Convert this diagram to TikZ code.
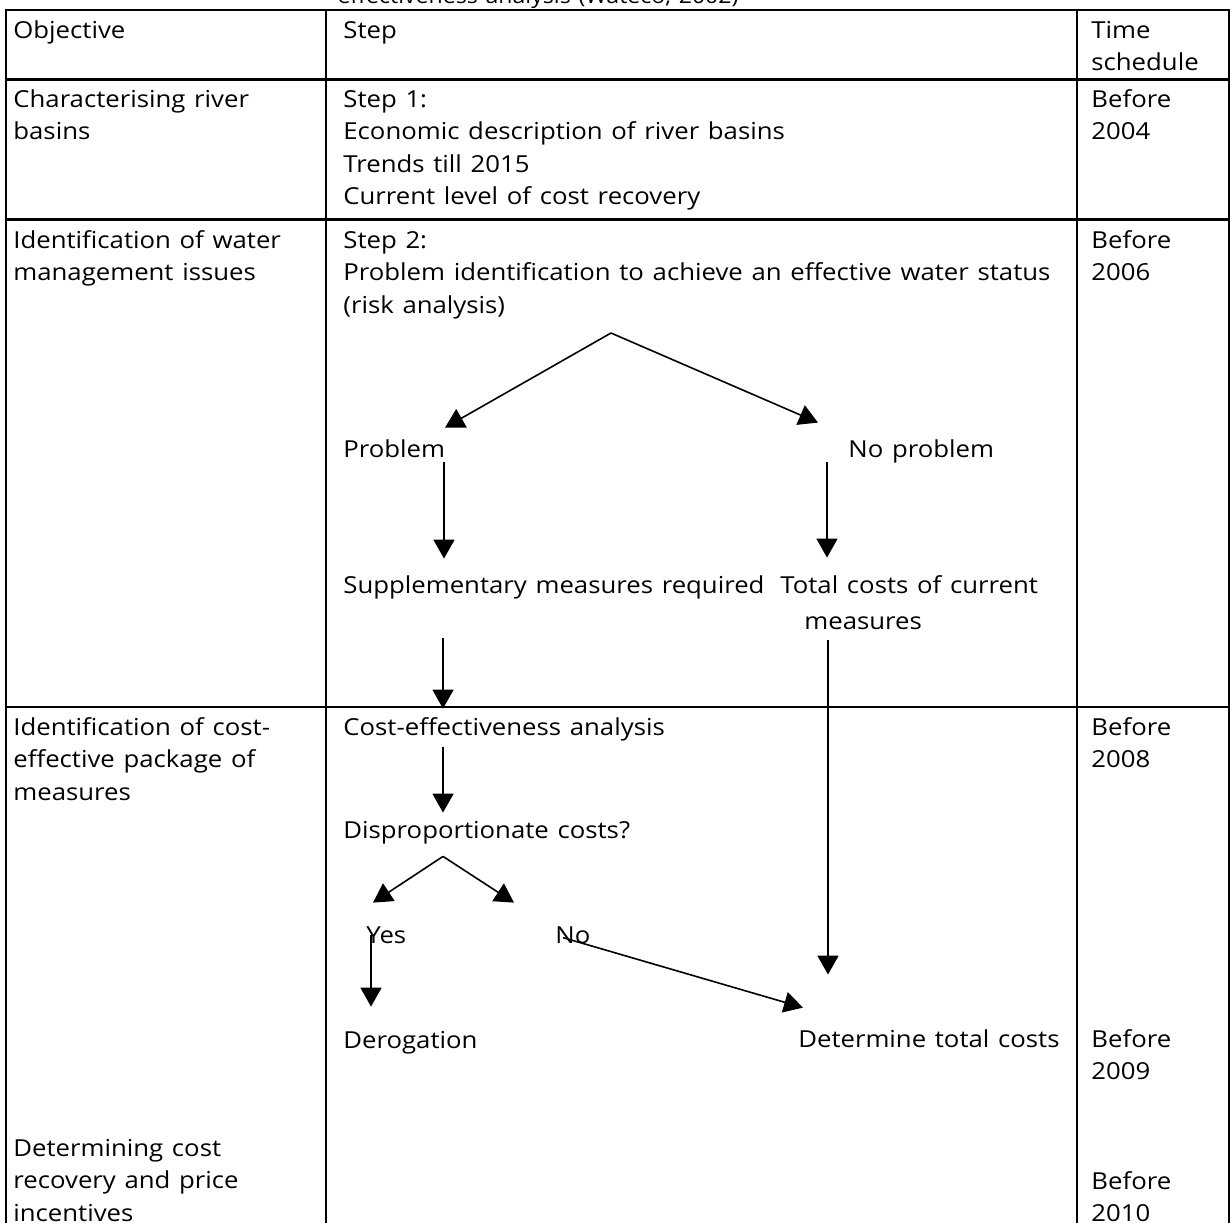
\documentclass[tikz,border=0pt]{standalone}
\usepackage{fontspec}
\setmainfont{Open Sans}[FakeStretch=1.1,WordSpace=1.3]
\usetikzlibrary{positioning,calc,arrows.meta}
\tikzset{
  >={Triangle[length=9.5pt,width=10.5pt]},
  my text/.style={
    anchor=base west,
    inner sep=0pt,
    align=left,
    font=\fontsize{11.7}{16.25}\selectfont
  },
  my label/.style={
    anchor=base west,
    inner sep=0pt,
    text height=8.5pt,
    text depth=2.5pt,
    font=\fontsize{11.7}{16.25}\selectfont
  },
  my rule/.style={line width=1.3pt},
  my arrow/.style={->,line width=0.8pt}
}

\begin{document}
\begin{tikzpicture}[x=0.5pt,y=-0.5pt]
\useasboundingbox (0,0) rectangle (1232,1223);
\clip (0,0) rectangle (1232,1223);
% caption, cut off at the top
\node[my label,anchor=base,font=\fontsize{10.5}{14}\selectfont] (caption) at (538,3) {effectiveness analysis (Wateco, 2002)};
% table
\draw[my rule] (6,1223) -- (6,10) -- (1229,10) -- (1229,1223);
\foreach \y in {79.3,219.7,707}
  \draw[my rule] (6,\y) -- (1229,\y);
\foreach \x in {326,1077}
  \draw[my rule] (\x,10) -- (\x,1223);
% header (multi-line nodes sit on their last baseline)
\node[my text] (obj)  at (13,38)     {Objective};
\node[my text] (step) at (343,38)    {Step};
\node[my text] (time) at (1091,70.5) {Time\\schedule};
% rows
\node[my text] (char)    at (13,139.5)   {Characterising river\\basins};
\node[my text] (step1)   at (343,204.5)  {Step 1:\\Economic description of river basins\\Trends till 2015\\Current level of cost recovery};
\node[my text] (before1) at (1091,139.5) {Before\\2004};
\node[my text] (ident)   at (13,280.5)   {Identification of water\\management issues};
\node[my text] (step2)   at (343,313)    {Step 2:\\Problem identification to achieve an effective water status\\(risk analysis)};
\node[my text] (before2) at (1091,280.5) {Before\\2006};
\node[my text] (costpack) at (13,800)    {Identification of cost-\\effective package of\\measures};
\node[my text] (before3) at (1091,767.5) {Before\\2008};
\node[my text] (before4) at (1091,1079.5) {Before\\2009};
\node[my text] (recov)   at (13,1221)    {Determining cost\\recovery and price\\incentives};
\node[my text] (before5) at (1091,1221.5) {Before\\2010};
% flow
\coordinate (fork1) at (611,333);
\node[my label] (prob)    at (343,457)  {Problem};
\node[my label] (noprob)  at (848,457)  {No problem};
\node[my label] (supp)    at (343,593)  {Supplementary measures required};
\node[my text]  (totcost) at (780,629.5) {Total costs of current\\[2pt]\hspace*{12pt}measures};
\node[my label] (costeff) at (343,735)  {Cost-effectiveness analysis};
\node[my label] (disprop) at (343,838)  {Disproportionate costs?};
\coordinate (fork2) at ($(disprop.south west)+(100,13)$);
\node[my label] (yes)     at (366,943)  {Yes};
\node[my label] (no)      at (555,943)  {No};
\node[my label] (derog)   at (343,1048) {Derogation};
\node[my label,anchor=base east] (dettot) at (1060,1047) {Determine total costs};

\draw[my arrow] (fork1) -- ($(prob.north west)+(102,-12)$);
\draw[my arrow] (fork1) -- ($(noprob.north west)+(-30,-17)$);
\draw[my arrow] ($(prob.south west)+(101,0)$) -- ($(supp.north west)+(101,-17)$);
\draw[my arrow] ($(noprob.south west)+(-21,0)$) -- ($(noprob.south west |- supp.north)+(-21,-18)$);
\draw[my arrow] ($(supp.south west)+(100,40)$) -- ($(costeff.north west)+(100,-9)$);
\draw[my arrow] ($(totcost.south west)+(48,10)$) -- ($(totcost.west |- dettot.north)+(48,-55)$);
\draw[my arrow] ($(costeff.south west)+(100,7)$) -- ($(disprop.north west)+(100,-8)$);
\draw[my arrow] (fork2) -- ($(yes.north west)+(7,-23)$);
\draw[my arrow] (fork2) -- ($(no.north west)+(-41,-23)$);
\draw[my arrow] ($(yes.north west)+(5,9)$) -- ($(derog.north west)+(28,-24)$);
\draw[my arrow] ($(no.north west)+(8,12)$) -- ($(no.north west |- dettot.north)+(248,-22)$);
\end{tikzpicture}
\end{document}
